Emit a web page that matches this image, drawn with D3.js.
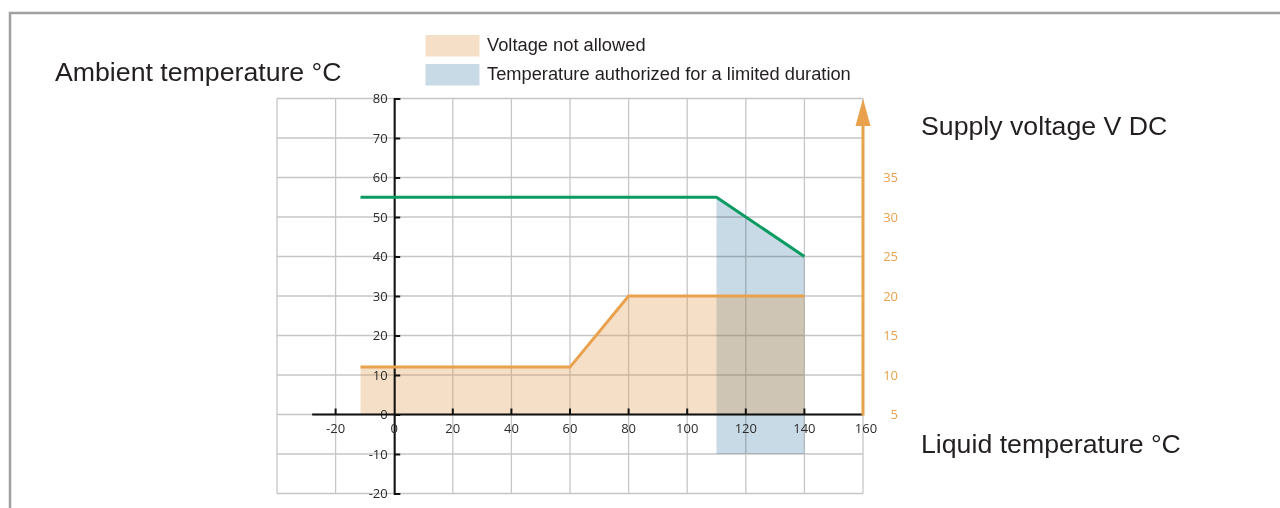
<!DOCTYPE html>
<html>
<head>
<meta charset="utf-8">
<script src="https://cdn.jsdelivr.net/npm/d3@7"></script>
<style>
  html, body { margin: 0; padding: 0; background: #fff; }
  svg { display: block; }
  .title { font-family: "Liberation Sans", Arial, sans-serif; fill: #231f20; }
  .tick-label { font-family: "Open Sans", "Noto Sans", sans-serif; font-size: 13px; }
</style>
</head>
<body>
<svg id="chart" width="1280" height="508"></svg>
<script>
// Liquid temperature (°C) tick values
const liquidTicks = [-20, 0, 20, 40, 60, 80, 100, 120, 140, 160];
// Ambient temperature (°C) tick values
const ambientTicks = [-20, -10, 0, 10, 20, 30, 40, 50, 60, 70, 80];
// Supply voltage (V DC) tick values
const voltageTicks = [5, 10, 15, 20, 25, 30, 35];

// Minimum supply voltage curve: below it the voltage is not allowed
const voltageLiquid = [-11.5, 60, 80, 140];
const voltageMin = [11, 11, 20, 20];

// Maximum ambient temperature vs liquid temperature
const ambientLiquid = [-11.5, 110, 140];
const ambientMax = [55, 55, 40];

// Liquid temperature range allowed for a limited duration
const limitedRange = [110, 140];
const limitedAmbientFloor = -10;

const legendItems = ["Voltage not allowed", "Temperature authorized for a limited duration"];
const legendColors = ["#f5e0c7", "#c8dae6"];

const orange = "#e9a14d";
const orangeFill = "#de9644";
const green = "#0a9b62";
const gridColor = "#c6c6c6";

const svg = d3.select("#chart");

// Outer frame
svg.append("rect")
  .attr("x", 10).attr("y", 13)
  .attr("width", 1400).attr("height", 600)
  .attr("fill", "none")
  .attr("stroke", "#a0a0a0")
  .attr("stroke-width", 2.5);

const x = d3.scaleLinear().domain([-40, 160]).range([277, 863]);
const y = d3.scaleLinear().domain([-20, 80]).range([493.5, 98.5]);
// Voltage axis: 5 V sits on ambient 0, 5 V per 10 °C step
const yV = d3.scaleLinear().domain([5, 35]).range([y(0), y(60)]);

// Grid
const grid = svg.append("g");
grid.selectAll("line.v")
  .data(d3.range(-40, 161, 20))
  .join("line")
  .attr("x1", d => x(d)).attr("x2", d => x(d))
  .attr("y1", y(-20)).attr("y2", y(80))
  .attr("stroke", gridColor).attr("stroke-width", 1.3);
grid.selectAll("line.h")
  .data(ambientTicks)
  .join("line")
  .attr("x1", x(-40)).attr("x2", x(160))
  .attr("y1", d => y(d)).attr("y2", d => y(d))
  .attr("stroke", gridColor).attr("stroke-width", 1.3);

// Limited-duration band, capped by the ambient curve
const ambientPts = ambientLiquid.map((t, i) => [t, ambientMax[i]]);
const ambientAt = d3.scaleLinear().domain(ambientLiquid).range(ambientMax);
const bandPts = limitedRange.map(t => [t, ambientAt(t)]);
svg.append("path")
  .datum(bandPts)
  .attr("d", d3.area().x(d => x(d[0])).y0(y(limitedAmbientFloor)).y1(d => y(d[1])))
  .attr("fill", legendColors[1])
  .style("mix-blend-mode", "multiply");

// Voltage-not-allowed area (translucent, so the band shows through)
const voltagePts = voltageLiquid.map((t, i) => [t, voltageMin[i]]);
svg.append("path")
  .datum(voltagePts)
  .attr("d", d3.area().x(d => x(d[0])).y0(yV(5)).y1(d => yV(d[1])))
  .attr("fill", orangeFill)
  .attr("fill-opacity", 0.3);

// Y axis (ambient)
const yAxis = d3.axisRight(y).tickValues(ambientTicks).tickSize(6).tickFormat("");
const yg = svg.append("g").attr("transform", `translate(${x(0)},0)`).call(yAxis);
yg.select(".domain").attr("stroke", "#111").attr("stroke-width", 2);
yg.selectAll(".tick line").attr("stroke", "#111").attr("stroke-width", 2);
svg.append("g").selectAll("text")
  .data(ambientTicks)
  .join("text")
  .attr("class", "tick-label")
  .attr("x", x(0) - 6.5)
  .attr("y", d => y(d))
  .attr("dy", "0.36em")
  .attr("text-anchor", "end")
  .attr("fill", "#2b2b2b")
  .text(d => d);

// X axis (liquid)
svg.append("line")
  .attr("x1", x(-28)).attr("x2", x(160))
  .attr("y1", y(0)).attr("y2", y(0))
  .attr("stroke", "#111").attr("stroke-width", 2);
svg.append("g").selectAll("line")
  .data(liquidTicks.filter(d => d !== 0 && d !== 160))
  .join("line")
  .attr("x1", d => x(d)).attr("x2", d => x(d))
  .attr("y1", y(0)).attr("y2", y(0) - 6)
  .attr("stroke", "#111").attr("stroke-width", 2);
svg.append("g").selectAll("text")
  .data(liquidTicks)
  .join("text")
  .attr("class", "tick-label")
  .attr("x", d => x(d) + (d === 160 ? 3 : 0))
  .attr("y", y(0) + 18.5)
  .attr("text-anchor", "middle")
  .attr("fill", "#2b2b2b")
  .text(d => d);

// Ambient curve
svg.append("path")
  .datum(ambientPts)
  .attr("d", d3.line().x(d => x(d[0])).y(d => y(d[1])))
  .attr("fill", "none")
  .attr("stroke", green)
  .attr("stroke-width", 3);

// Voltage curve
svg.append("path")
  .datum(voltagePts)
  .attr("d", d3.line().x(d => x(d[0])).y(d => yV(d[1])))
  .attr("fill", "none")
  .attr("stroke", orange)
  .attr("stroke-width", 3);

// Voltage axis with arrow
svg.append("line")
  .attr("x1", x(160)).attr("x2", x(160))
  .attr("y1", yV(5) + 1).attr("y2", y(80) + 20)
  .attr("stroke", orange).attr("stroke-width", 3);
svg.append("path")
  .attr("d", `M${x(160)},${y(80)} L${x(160) + 7.5},${y(80) + 27.5} L${x(160) - 7.5},${y(80) + 27.5} Z`)
  .attr("fill", orange);
svg.append("g").selectAll("text")
  .data(voltageTicks)
  .join("text")
  .attr("class", "tick-label")
  .attr("x", 898)
  .attr("y", d => yV(d))
  .attr("dy", "0.36em")
  .attr("text-anchor", "end")
  .attr("fill", orange)
  .text(d => d);

// Axis titles
const titles = [
  { text: "Ambient temperature °C", x: 55, y: 81 },
  { text: "Supply voltage V DC", x: 921, y: 135 },
  { text: "Liquid temperature °C", x: 921, y: 452.7 }
];
svg.append("g").selectAll("text")
  .data(titles)
  .join("text")
  .attr("class", "title")
  .attr("x", d => d.x).attr("y", d => d.y)
  .style("font-size", "26.7px")
  .text(d => d.text);

// Legend
const legend = svg.append("g");
legendItems.forEach((label, i) => {
  legend.append("rect")
    .attr("x", 425.5).attr("y", 35 + i * 29)
    .attr("width", 54).attr("height", 21.5)
    .attr("fill", legendColors[i]);
  legend.append("text")
    .attr("class", "title")
    .attr("x", 487).attr("y", 50.5 + i * 29)
    .style("font-size", "18.3px")
    .text(label);
});
</script>
</body>
</html>
